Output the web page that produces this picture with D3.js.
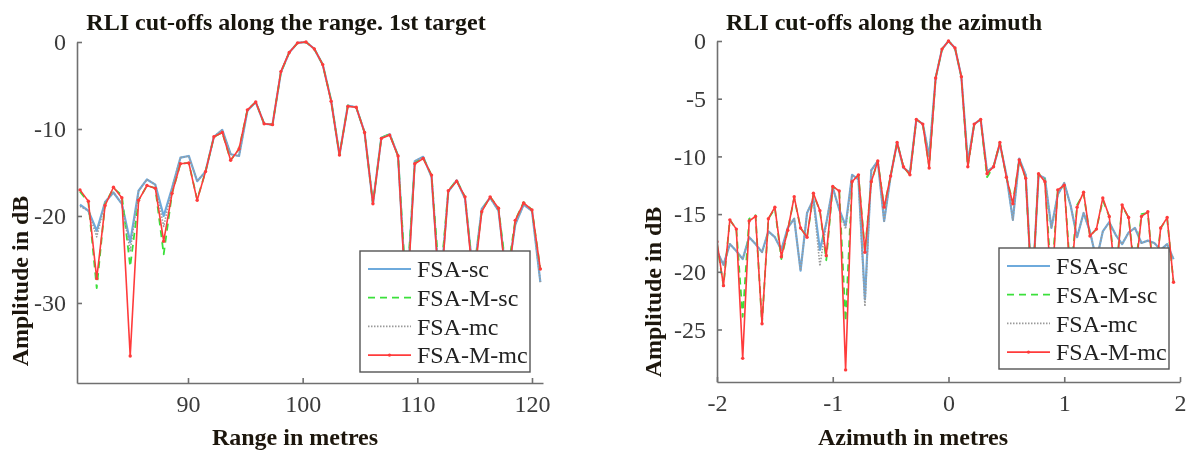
<!DOCTYPE html>
<html>
<head>
<meta charset="utf-8">
<script src="https://cdn.jsdelivr.net/npm/d3@7"></script>
<style>
  body { margin: 0; background: #fff; }
  svg { display: block; }
  .domain, .tick line { stroke: #707070; stroke-width: 1.6px; }
</style>
</head>
<body>
<svg width="1193" height="453"></svg>
<script>
var width = 1193,
    height = 453,
    serif = "'Liberation Serif', 'Times New Roman', Times, serif";

// ---- range cut (left panel) ----
var rangeX = [80.58, 81.31, 82.04, 82.77, 83.50, 84.23, 84.96, 85.69, 86.42, 87.15,
  87.88, 88.61, 89.34, 90.07, 90.80, 91.53, 92.26, 92.99, 93.72, 94.45,
  95.18, 95.91, 96.64, 97.37, 98.10, 98.83, 99.56, 100.29, 101.02, 101.75,
  102.48, 103.21, 103.94, 104.67, 105.40, 106.13, 106.86, 107.59, 108.32, 109.05,
  109.78, 110.51, 111.24, 111.97, 112.70, 113.43, 114.16, 114.89, 115.62, 116.35,
  117.08, 117.81, 118.54, 119.27, 120.00, 120.73];

var rangeSc = [-18.7, -19.4, -21.7, -18.4, -17.3, -18.6, -23.0, -17.1, -15.8, -16.4,
  -20.0, -16.8, -13.3, -13.1, -16.0, -14.9, -10.9, -10.1, -12.9, -13.1,
  -7.9, -6.9, -9.4, -9.5, -3.5, -1.2, -0.1, 0, -0.8, -2.6,
  -6.7, -13.0, -7.3, -7.5, -10.4, -18.6, -11.0, -10.6, -13.1, -30.0,
  -13.7, -13.2, -15.5, -29.0, -17.2, -15.9, -18.0, -27.0, -19.2, -17.9,
  -19.4, -27.5, -21.0, -18.7, -19.4, -27.6];

var rangeMsc = [-17.2, -18.4, -28.3, -18.6, -16.8, -17.6, -25.8, -18.2, -16.5, -16.8,
  -24.4, -17.4, -14.0, -13.9, -18.1, -14.9, -10.9, -10.4, -13.6, -12.3,
  -7.8, -6.9, -9.4, -9.5, -3.5, -1.2, -0.1, 0, -0.8, -2.6,
  -6.7, -13.0, -7.3, -7.5, -10.4, -18.6, -11.0, -10.6, -13.1, -29.0,
  -13.9, -13.3, -15.3, -28.0, -17.1, -15.9, -17.8, -27.0, -19.4, -17.8,
  -19.1, -27.0, -20.5, -18.4, -19.3, -26.1];

var rangeMc = [-18.9, -19.4, -22.4, -18.4, -17.3, -18.6, -24.0, -17.1, -15.8, -16.4,
  -21.2, -16.8, -13.3, -13.1, -16.0, -14.9, -10.9, -10.1, -12.9, -13.1,
  -7.9, -6.9, -9.4, -9.5, -3.5, -1.2, -0.1, 0, -0.8, -2.6,
  -6.7, -13.0, -7.3, -7.5, -10.4, -18.6, -11.0, -10.6, -13.1, -30.0,
  -13.7, -13.2, -15.5, -29.0, -17.2, -15.9, -18.0, -27.0, -19.2, -17.9,
  -19.4, -27.5, -21.0, -18.7, -19.4, -27.6];

var rangeMmc = [-17.0, -18.3, -27.2, -18.8, -16.7, -17.9, -36.1, -18.2, -16.5, -16.8,
  -22.9, -17.4, -14.0, -13.9, -18.2, -14.9, -10.9, -10.4, -13.6, -12.3,
  -7.8, -6.9, -9.4, -9.5, -3.4, -1.2, -0.1, 0, -0.8, -2.6,
  -6.8, -13.0, -7.4, -7.5, -10.4, -18.6, -11.1, -10.7, -13.1, -31.0,
  -14.0, -13.4, -15.3, -30.0, -17.1, -16.0, -17.8, -28.0, -19.5, -17.8,
  -19.1, -28.5, -20.5, -18.5, -19.3, -26.1];

// ---- azimuth cut (right panel) ----
var azX = [-2.000, -1.944, -1.889, -1.833, -1.778, -1.722, -1.667, -1.611, -1.556, -1.500,
  -1.444, -1.389, -1.333, -1.278, -1.222, -1.167, -1.111, -1.056, -1.000, -0.944,
  -0.889, -0.833, -0.778, -0.722, -0.667, -0.611, -0.556, -0.500, -0.444, -0.389,
  -0.333, -0.278, -0.222, -0.167, -0.111, -0.056, 0.000, 0.056, 0.111, 0.167,
  0.222, 0.278, 0.333, 0.389, 0.444, 0.500, 0.556, 0.611, 0.667, 0.722,
  0.778, 0.833, 0.889, 0.944, 1.000, 1.056, 1.111, 1.167, 1.222, 1.278,
  1.333, 1.389, 1.444, 1.500, 1.556, 1.611, 1.667, 1.722, 1.778, 1.833,
  1.889, 1.944];

var azSc = [-18.2, -19.4, -17.6, -18.2, -18.9, -17.0, -17.6, -18.3, -16.5, -17.0,
  -18.1, -16.2, -15.4, -19.9, -14.9, -13.7, -18.1, -15.8, -12.7, -14.6,
  -16.0, -11.6, -12.0, -22.4, -11.2, -10.4, -15.6, -11.7, -8.8, -11.0,
  -11.4, -6.8, -7.2, -10.0, -3.2, -0.7, 0, -0.6, -3.1, -10.5,
  -7.2, -6.8, -11.3, -10.9, -8.9, -11.6, -15.5, -10.2, -11.6, -22.0,
  -11.6, -11.9, -16.2, -13.3, -12.3, -14.3, -17.0, -14.9, -16.5, -19.0,
  -16.5, -15.7, -16.8, -17.6, -16.6, -16.2, -17.5, -17.3, -17.5, -18.1,
  -17.6, -18.9];

var azMsc = [-17.6, -21.2, -15.5, -16.3, -23.9, -15.4, -15.1, -24.5, -15.4, -14.5,
  -18.9, -16.4, -13.6, -16.2, -17.0, -13.3, -14.7, -19.0, -12.6, -13.0,
  -24.3, -12.2, -11.6, -18.2, -12.2, -10.4, -14.4, -11.7, -8.8, -10.9,
  -11.6, -6.8, -7.2, -10.9, -3.2, -0.7, 0, -0.6, -3.1, -10.9,
  -7.2, -6.8, -11.8, -10.9, -8.8, -11.8, -14.0, -10.3, -11.9, -22.0,
  -11.5, -12.0, -21.0, -12.9, -12.5, -20.5, -14.2, -13.2, -16.9, -16.3,
  -13.8, -15.2, -20.5, -14.3, -15.3, -20.0, -15.0, -14.9, -21.0, -16.2,
  -15.4, -20.9];

var azMc = [-18.2, -19.4, -17.6, -18.2, -18.9, -17.0, -17.6, -18.3, -16.5, -17.0,
  -18.1, -16.2, -15.4, -19.9, -14.9, -13.7, -19.5, -15.8, -12.7, -14.6,
  -16.3, -11.6, -12.0, -23.0, -11.2, -10.4, -15.6, -11.7, -8.8, -11.0,
  -11.4, -6.8, -7.2, -10.0, -3.2, -0.7, 0, -0.6, -3.1, -10.5,
  -7.2, -6.8, -11.3, -10.9, -8.9, -11.6, -15.5, -10.2, -11.6, -22.0,
  -11.6, -11.9, -16.2, -13.3, -12.3, -14.3, -17.0, -14.9, -16.5, -19.0,
  -16.5, -15.7, -16.8, -17.6, -16.6, -16.2, -17.5, -17.3, -17.5, -18.1,
  -17.6, -18.9];

var azMmc = [-17.4, -21.2, -15.5, -16.3, -27.5, -15.6, -15.2, -24.5, -15.4, -14.4,
  -18.7, -16.4, -13.5, -16.2, -17.0, -13.2, -14.7, -18.6, -12.6, -13.0,
  -28.5, -12.2, -11.6, -18.3, -12.2, -10.4, -14.4, -11.7, -8.8, -10.9,
  -11.6, -6.8, -7.2, -11.0, -3.2, -0.7, 0, -0.6, -3.1, -10.9,
  -7.2, -6.8, -11.5, -10.9, -8.8, -11.8, -14.1, -10.3, -11.9, -22.0,
  -11.5, -12.2, -22.0, -12.9, -12.5, -21.0, -14.4, -13.1, -16.9, -16.3,
  -13.6, -15.2, -21.0, -14.2, -15.3, -20.5, -15.2, -14.8, -21.5, -16.2,
  -15.3, -20.9];

var seriesNames = ["FSA-sc", "FSA-M-sc", "FSA-mc", "FSA-M-mc"];
var seriesStyle = [
  {stroke: "#6eaadc", width: 2.2, dash: null},
  {stroke: "#3be03b", width: 1.8, dash: "7,5"},
  {stroke: "#9a9a9a", width: 1.6, dash: "1.5,1.5"},
  {stroke: "#ff3b3b", width: 1.6, dash: null, marker: true}
];

var svg = d3.select("svg");
svg.append("defs").append("filter").attr("id", "soft")
  .append("feGaussianBlur").attr("stdDeviation", 0.45);
svg.append("rect").attr("width", width).attr("height", height).attr("fill", "#fff");
var root = svg.append("g").attr("filter", "url(#soft)");

function plainTick(d) { return String(d); }

function panel(cfg) {
  var x = d3.scaleLinear().domain(cfg.xDomain).range([cfg.left, cfg.right]);
  var y = d3.scaleLinear().domain(cfg.yDomain).range([cfg.bottom, cfg.top]);
  var g = root.append("g");

  var clip = "clip-" + cfg.id;
  g.append("clipPath").attr("id", clip)
    .append("rect")
    .attr("x", cfg.left).attr("y", cfg.top - 4)
    .attr("width", cfg.right - cfg.left + 4).attr("height", cfg.bottom - cfg.top + 4);

  var line = d3.line()
    .x(function(d) { return x(d[0]); })
    .y(function(d) { return y(d[1]); });

  var plot = g.append("g").attr("clip-path", "url(#" + clip + ")");
  cfg.series.forEach(function(vals, k) {
    var st = seriesStyle[k];
    var pts = cfg.x.map(function(v, i) { return [v, vals[i]]; });
    plot.append("path")
      .datum(pts)
      .attr("fill", "none")
      .attr("stroke", st.stroke)
      .attr("stroke-width", st.width)
      .attr("stroke-dasharray", st.dash)
      .attr("stroke-linejoin", "round")
      .attr("d", line);
    if (st.marker) {
      plot.selectAll(null).data(pts).enter().append("circle")
        .attr("cx", function(d) { return x(d[0]); })
        .attr("cy", function(d) { return y(d[1]); })
        .attr("r", 1.7)
        .attr("fill", st.stroke);
    }
  });

  g.append("g")
    .attr("transform", "translate(0," + cfg.bottom + ")")
    .call(d3.axisBottom(x).tickValues(cfg.xTicks).tickFormat(plainTick)
      .tickSizeInner(-5).tickSizeOuter(0).tickPadding(12))
    .call(function(a) { a.selectAll("text").attr("dy", "0.72em"); });

  g.append("g")
    .attr("transform", "translate(" + cfg.left + ",0)")
    .call(d3.axisLeft(y).tickValues(cfg.yTicks).tickFormat(plainTick)
      .tickSizeInner(-5).tickSizeOuter(0).tickPadding(11));

  g.selectAll(".tick text")
    .attr("fill", null)
    .style("font-family", serif)
    .style("font-size", "24px")
    .style("fill", "#3a3a3a");

  g.append("text")
    .attr("x", cfg.titleX).attr("y", 30)
    .attr("text-anchor", "middle")
    .style("font-family", serif).style("font-weight", "bold")
    .style("font-size", "24px").style("fill", "#17120a")
    .text(cfg.title);

  g.append("text")
    .attr("x", cfg.xLabelX).attr("y", 445)
    .attr("text-anchor", "middle")
    .style("font-family", serif).style("font-weight", "bold")
    .style("font-size", "24px").style("fill", "#1d160a")
    .text(cfg.xLabel);

  g.append("text")
    .attr("transform", "translate(" + cfg.yLabelX + "," + cfg.yLabelY + ") rotate(-90)")
    .attr("text-anchor", "middle")
    .style("font-family", serif).style("font-weight", "bold")
    .style("font-size", "24px").style("fill", "#1d160a")
    .text("Amplitude in dB");

  // legend
  var lg = g.append("g").attr("transform", "translate(" + cfg.legend[0] + "," + cfg.legend[1] + ")");
  lg.append("rect")
    .attr("width", 170).attr("height", 121)
    .attr("fill", "#fff")
    .attr("stroke", "#555").attr("stroke-width", 1.4);
  seriesNames.forEach(function(name, k) {
    var st = seriesStyle[k];
    var ry = 18 + k * 28.7;
    lg.append("line")
      .attr("x1", 8).attr("x2", 51).attr("y1", ry).attr("y2", ry)
      .attr("stroke", st.stroke).attr("stroke-width", st.width)
      .attr("stroke-dasharray", st.dash);
    if (st.marker) {
      lg.append("circle").attr("cx", 29.5).attr("cy", ry).attr("r", 1.7).attr("fill", st.stroke);
    }
    lg.append("text")
      .attr("x", 57).attr("y", ry).attr("dy", "0.34em")
      .style("font-family", serif).style("font-size", "24px").style("fill", "#222")
      .text(name);
  });
}

panel({
  id: "range",
  x: rangeX,
  series: [rangeSc, rangeMsc, rangeMc, rangeMmc],
  xDomain: [80.32, 120.96], yDomain: [-39.2, 0],
  left: 77, right: 543, top: 42, bottom: 383,
  xTicks: [90, 100, 110, 120], yTicks: [0, -10, -20, -30],
  title: "RLI cut-offs along the range. 1st target", titleX: 286,
  xLabel: "Range in metres", xLabelX: 295,
  yLabelX: 28, yLabelY: 281,
  legend: [360, 251]
});

panel({
  id: "az",
  x: azX,
  series: [azSc, azMsc, azMc, azMmc],
  xDomain: [-2, 2], yDomain: [-29.55, 0],
  left: 717, right: 1180, top: 41, bottom: 382,
  xTicks: [-2, -1, 0, 1, 2], yTicks: [0, -5, -10, -15, -20, -25],
  title: "RLI cut-offs along the azimuth", titleX: 884,
  xLabel: "Azimuth in metres", xLabelX: 913,
  yLabelX: 661, yLabelY: 292,
  legend: [999, 248]
});
</script>
</body>
</html>
